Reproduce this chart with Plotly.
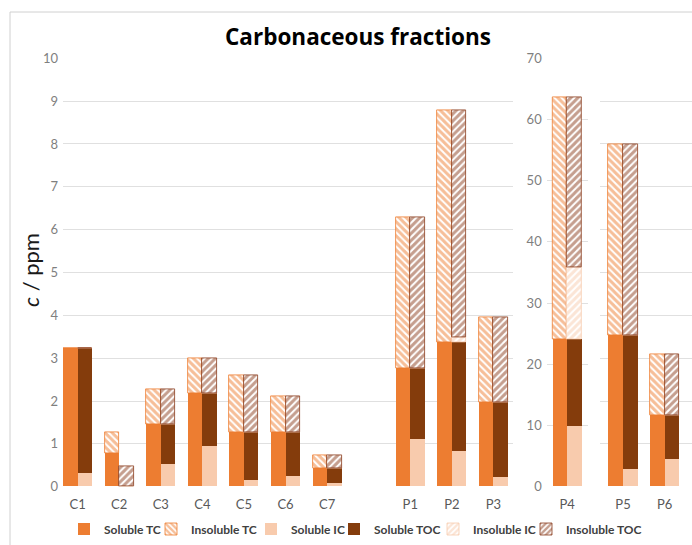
import plotly.graph_objects as go

# ---------------- data (ppm) ----------------
samples = ["C1", "C2", "C3", "C4", "C5", "C6", "C7", "P1", "P2", "P3", "P4", "P5", "P6"]
soluble_tc = [3.23, 0.78, 1.46, 2.19, 1.28, 1.28, 0.44, 2.76, 3.38, 1.98, 24.1, 24.8, 11.7]
insoluble_tc = [0.00, 0.48, 0.81, 0.80, 1.32, 0.84, 0.30, 3.53, 5.41, 1.97, 39.5, 31.2, 9.9]
soluble_ic = [0.31, 0.00, 0.52, 0.95, 0.14, 0.25, 0.09, 1.11, 0.82, 0.22, 9.8, 2.9, 4.4]
soluble_toc = [2.92, 0.00, 0.94, 1.24, 1.14, 1.03, 0.35, 1.65, 2.54, 1.76, 14.3, 21.9, 7.3]
insoluble_ic = [0.00, 0.00, 0.00, 0.00, 0.00, 0.00, 0.00, 0.00, 0.12, 0.00, 11.8, 0.0, 0.0]
insoluble_toc = [0.00, 0.47, 0.81, 0.80, 1.32, 0.84, 0.30, 3.53, 5.31, 1.97, 27.7, 31.2, 9.9]

left_ticks = list(range(0, 11))
right_ticks = list(range(0, 71, 10))

# panels: (samples, x-axis, y-axis)
panel_samples = [samples[:10], samples[10:11], samples[11:]]
panel_axes = [("x", "y"), ("x2", "y2"), ("x3", "y3")]

ORANGE = "#ED7D31"
BROWN = "#843C0C"
PEACH = "#F8CBAD"
HATCH_BROWN = "#8B3E1E"
FONT = "Lato"
BAR_W = 0.35


def add(a, b):
    return [x + y for x, y in zip(a, b)]


series = [
    # name, values, base, side offset, color, pattern shape, line color
    ("Soluble TC", soluble_tc, [0] * 13, -BAR_W, ORANGE, "", None),
    ("Insoluble TC", insoluble_tc, soluble_tc, -BAR_W, ORANGE, "\\", ORANGE),
    ("Soluble IC", soluble_ic, [0] * 13, 0.0, PEACH, "", None),
    ("Soluble TOC", soluble_toc, soluble_ic, 0.0, BROWN, "", None),
    ("Insoluble IC", insoluble_ic, add(soluble_ic, soluble_toc), 0.0, PEACH, "/", PEACH),
    ("Insoluble TOC", insoluble_toc, add(add(soluble_ic, soluble_toc), insoluble_ic), 0.0, HATCH_BROWN, "/", HATCH_BROWN),
]

fig = go.Figure()
idx_of = {s: i for i, s in enumerate(samples)}

for k, (name, vals, base, off, col, shape, lcol) in enumerate(series):
    legend_name = "legend" if k == 0 else f"legend{k + 1}"
    for p, (cats, (xa, ya)) in enumerate(zip(panel_samples, panel_axes)):
        ii = [idx_of[c] for c in cats]
        if shape:
            marker = dict(color="white",
                          pattern=dict(shape=shape, fgcolor=col, bgcolor="white", size=5, solidity=0.6),
                          line=dict(color=lcol, width=0.8))
        else:
            marker = dict(color=col, line=dict(width=0))
        fig.add_trace(go.Bar(
            x=cats, y=[vals[i] for i in ii], base=[base[i] for i in ii],
            offset=off, width=BAR_W, name=name, marker=marker,
            xaxis=xa, yaxis=ya, legend=legend_name, legendgroup=name,
            showlegend=(p == 0),
        ))

W, H = 692, 545
ydom = [1 - 486.7 / H, 1 - 58.3 / H]
GRID = "#E0E0E0"
YTICK = dict(family=FONT, size=13, color="#7F7F7F")
XTICK = dict(family=FONT, size=13, color="#595959")

left_cats = samples[:7] + [" "] + samples[7:10]

layout_axes = dict(
    xaxis=dict(domain=[63 / W, 513 / W], type="category", categoryarray=left_cats,
               range=[-0.35, 10.47], showgrid=False, ticks="", tickfont=XTICK,
               ticklabelstandoff=8, anchor="y", showline=False, zeroline=False),
    yaxis=dict(domain=ydom, range=[0, 10], tickvals=left_ticks, gridcolor=GRID, gridwidth=1,
               tickfont=YTICK, anchor="x", zeroline=False, ticklabelstandoff=4),
    xaxis2=dict(domain=[546.7 / W, 588 / W], type="category", categoryarray=samples[10:11],
                range=[-0.49, 0.5], showgrid=False, ticks="", tickfont=XTICK,
                ticklabelstandoff=8, anchor="y2", zeroline=False),
    yaxis2=dict(domain=ydom, range=[0, 70], tickvals=right_ticks, gridcolor=GRID, gridwidth=1,
                tickfont=YTICK, anchor="x2", zeroline=False, ticklabelstandoff=4),
    xaxis3=dict(domain=[600 / W, 1.0], type="category", categoryarray=samples[11:],
                range=[-0.553, 1.659], showgrid=False, ticks="", tickfont=XTICK,
                ticklabelstandoff=8, anchor="y3", zeroline=False),
    yaxis3=dict(domain=ydom, range=[0, 70], dtick=7, tick0=0, gridcolor=GRID, gridwidth=1,
                showticklabels=False, anchor="x3", zeroline=False),
)

# legends: one per series, laid out in a single row (swatch left edges)
legend_swatch_left = [78, 165, 265, 348, 447, 540]
legends = {}
for k, sx in enumerate(legend_swatch_left):
    key = "legend" if k == 0 else f"legend{k + 1}"
    legends[key] = dict(x=(sx - 14) / W, xanchor="left", y=1 - 529 / H, yanchor="middle",
                        orientation="h", bgcolor="rgba(0,0,0,0)", borderwidth=0,
                        itemwidth=30,
                        font=dict(family=FONT, size=12, color="#404040", weight="bold"))

fig.update_layout(
    width=W, height=H, margin=dict(l=0, r=0, t=0, b=0, autoexpand=False),
    paper_bgcolor="white", plot_bgcolor="white",
    barmode="overlay", bargap=0,
    title=dict(text="<b>Carbonaceous fractions</b>", x=358 / W, y=1 - 37 / H,
               xanchor="center", yanchor="middle", xref="paper", yref="paper",
               font=dict(family="Open Sans", size=22.5, color="#000000")),
    annotations=[dict(text="<i>c</i> / ppm", x=30 / W, y=1 - 270 / H, xref="paper", yref="paper",
                      textangle=-90, showarrow=False, xanchor="center", yanchor="middle",
                      font=dict(family=FONT, size=22, color="#1A1A1A"))],
    shapes=[dict(type="rect", xref="paper", yref="paper", x0=10 / W, x1=1.02,
                 y0=-0.02, y1=1 - 12 / H, line=dict(color="#D0D0D0", width=1),
                 fillcolor="rgba(0,0,0,0)", layer="below")],
    **layout_axes,
    **legends,
)

fig.write_html("out.html")
